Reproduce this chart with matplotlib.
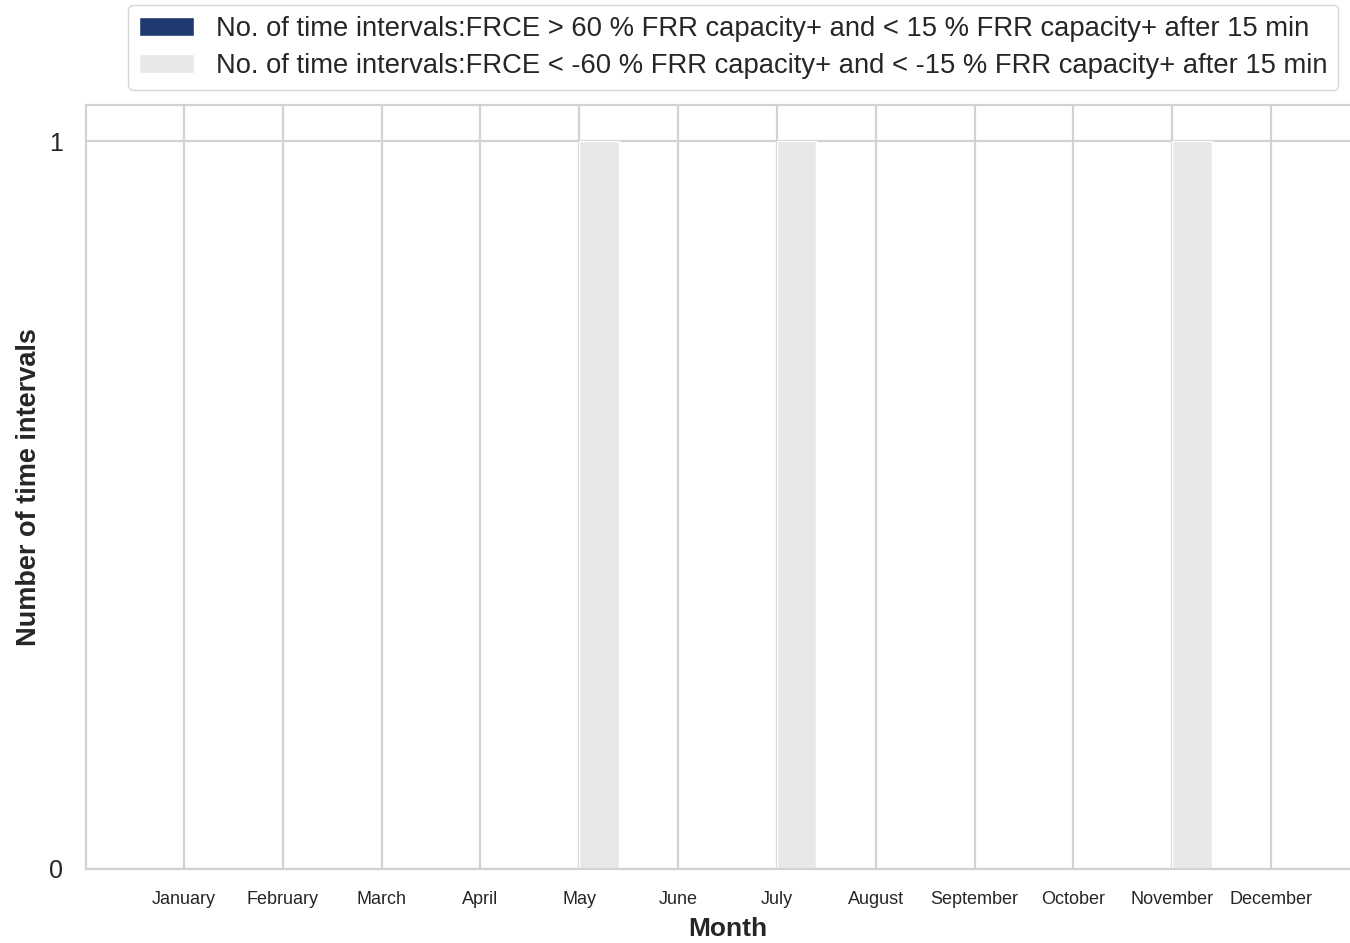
import numpy as np
import matplotlib.pyplot as plt
import seaborn as sns

months = ["January", "February", "March", "April", "May", "June",
          "July", "August", "September", "October", "November", "December"]
above_60 = [0, 0, 0, 0, 0, 0, 0, 0, 0, 0, 0, 0]
below_minus_60 = [0, 0, 0, 0, 1, 0, 1, 0, 0, 0, 1, 0]

label_pos = "No. of time intervals:FRCE > 60 % FRR capacity+ and < 15 % FRR capacity+ after 15 min"
label_neg = "No. of time intervals:FRCE < -60 % FRR capacity+ and < -15 % FRR capacity+ after 15 min"

sns.set_style("whitegrid", {"grid.color": "#d2d2d2", "axes.edgecolor": "#d2d2d2"})
plt.rcParams['font.family'] = ['Liberation Sans', 'DejaVu Sans']
plt.rcParams['grid.linewidth'] = 1.6
plt.rcParams['axes.linewidth'] = 1.6

fig = plt.figure(figsize=(13.5, 9.43), dpi=100)
ax = fig.add_axes([0.0637, 0.0785, 0.9504, 0.8102])

x = np.arange(len(months))
w = 0.4
ax.bar(x - w / 2, above_60, w, color="#1f3a6e", edgecolor="white", label=label_pos)
ax.bar(x + w / 2, below_minus_60, w, color="#e8e8e8", edgecolor="white", label=label_neg)

ax.set_xticks(x)
ax.set_xticklabels(months, fontsize=13)
ax.set_yticks([0, 1])
ax.tick_params(axis='x', pad=12.5)
ax.tick_params(axis='y', labelsize=18, pad=13)
ax.set_xlabel("Month", fontsize=19, fontweight="bold", labelpad=6)
ax.set_ylabel("Number of time intervals", fontsize=19.5, fontweight="bold", labelpad=5)

ax.legend(loc="upper right", bbox_to_anchor=(0.976, 1.131), borderaxespad=0,
          fontsize=19.7, labelspacing=0.4, frameon=True)

fig.savefig("out.png", dpi=100)
